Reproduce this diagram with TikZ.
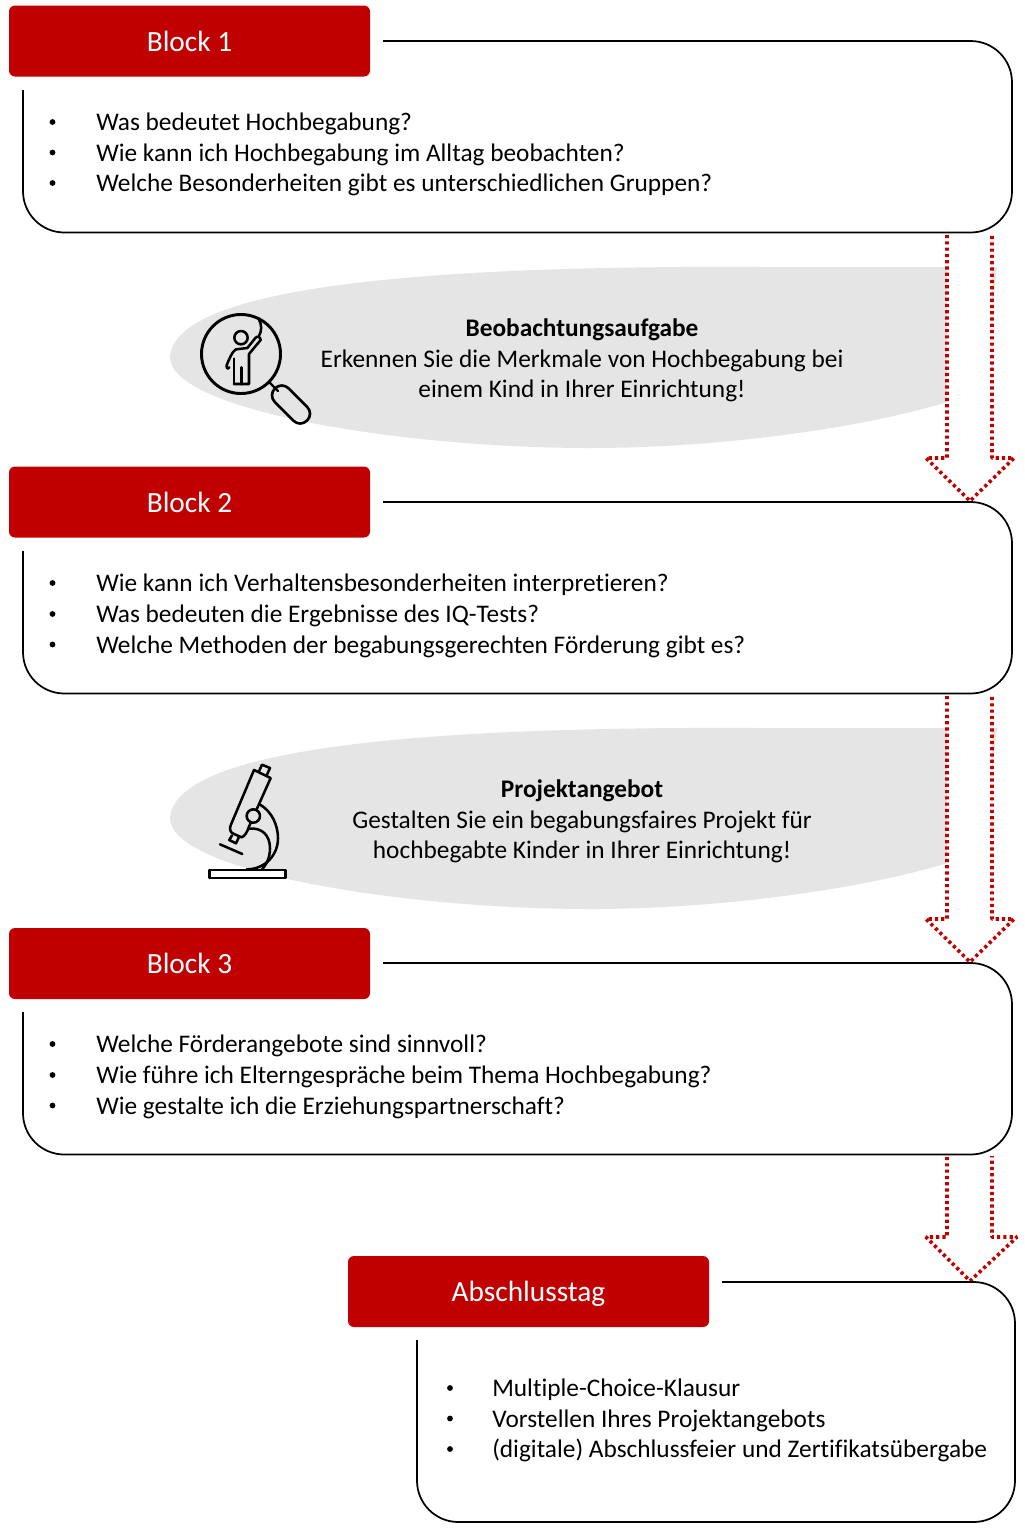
\documentclass[tikz,border=0pt]{standalone}
\usepackage{fontspec}
\setmainfont[Ligatures=NoCommon]{Carlito}
\begin{document}
\begin{tikzpicture}[x=0.75pt,y=-0.75pt,
  redbox/.style={draw=none,fill=brick,rounded corners=4.5pt,minimum width=270.75pt,minimum height=53.25pt,inner sep=0pt,text=white,text height=17pt,text depth=2pt,font=\fontsize{22}{26}\selectfont},
  panelline/.style={draw=black,line width=1.3pt,rounded corners=31pt},
  blockarrow/.style={draw=brick,fill=white,line width=2.7pt,line join=bevel,dash pattern=on 2.4pt off 2.3pt},
  blob/.style={fill=blobgrey,draw=none},
  itemtext/.style={anchor=base west,inner sep=0pt,font=\fontsize{19}{23}\selectfont,text=black},
  centertext/.style={anchor=base,inner sep=0pt,font=\fontsize{19}{23}\selectfont,text=black},
  icon/.style={draw=black,line width=1.9pt,line join=round,line cap=round}]
\definecolor{brick}{HTML}{C00000}
\definecolor{blobgrey}{HTML}{E5E5E5}
\useasboundingbox (0,0) rectangle (1025,1536);
\fill[white] (0,0) rectangle (1025,1536);

% grey blobs
\foreach \dy in {0,461}{
  \begin{scope}[yshift=-0.75*\dy pt]
  \fill[blob] (997,267) -- (760,267) .. controls (400,265) and (175,290) .. (170,357)
     .. controls (170,410) and (400,448) .. (590,448)
     .. controls (730,448) and (880,425) .. (960,398) -- (990,330) -- cycle;
  \end{scope}
}

% block arrows
\draw[blockarrow] (947,235) -- (947,458) -- (926,458) -- (970,501) -- (1014,458) -- (992,458) -- (992,234);
\draw[blockarrow] (947,696) -- (947,919) -- (926,919) -- (970,962) -- (1014,919) -- (992,919) -- (992,695);
\draw[blockarrow] (947,1157) -- (947,1237) -- (926,1237) -- (970,1281) -- (1017,1237) -- (992,1237) -- (992,1156);

% panels
\coordinate (p1s) at (383,41);
\coordinate (p2s) at (383,502);
\coordinate (p3s) at (383,963);
\coordinate (p4s) at (722,1282);
\draw[panelline] (p1s) -- (1012,41) -- (1012,232.5) -- (23,232.5) -- (23,90);
\draw[panelline] (p2s) -- (1012,502) -- (1012,693.5) -- (23,693.5) -- (23,551);
\draw[panelline] (p3s) -- (1012,963) -- (1012,1154.5) -- (23,1154.5) -- (23,1012);
\draw[panelline] (p4s) -- (1015,1282) -- (1015,1522) -- (417,1522) -- (417,1340);

% red headers
\node[redbox] (b1) at (189.5,41) {Block 1};
\node[redbox] (b2) at (189.5,502) {Block 2};
\node[redbox] (b3) at (189.5,963.5) {Block 3};
\node[redbox] (b4) at (528.5,1291.5) {Abschlusstag};

% items
\foreach \yy/\tt in {130.7/{Was bedeutet Hochbegabung?},161.2/{Wie kann ich Hochbegabung im Alltag beobachten?},191.7/{Welche Besonderheiten gibt es unterschiedlichen Gruppen?},
  591.7/{Wie kann ich Verhaltensbesonderheiten interpretieren?},622.7/{Was bedeuten die Ergebnisse des IQ-Tests?},653.2/{Welche Methoden der begabungsgerechten Förderung gibt es?},
  1052.7/{Welche Förderangebote sind sinnvoll?},1083.7/{Wie führe ich Elterngespräche beim Thema Hochbegabung?},1114.2/{Wie gestalte ich die Erziehungspartnerschaft?}}{
  \node[itemtext] at (96,\yy) {\tt};
  \fill[black] (52.5,\yy-8.7) circle (2.9);
}
\foreach \yy/\tt in {1396.5/{Multiple-Choice-Klausur},1427/{Vorstellen Ihres Projektangebots},1457.5/{(digitale) Abschlussfeier und Zertifikatsübergabe}}{
  \node[itemtext] at (492,\yy) {\tt};
  \fill[black] (450,\yy-8.5) circle (2.9);
}

% grey-blob texts
\node[centertext,font=\fontsize{19}{23}\selectfont\bfseries] (t1) at (582,336.7) {Beobachtungsaufgabe};
\node[centertext] (t2) at (582,367.2) {Erkennen Sie die Merkmale von Hochbegabung bei};
\node[centertext] (t3) at (582,397.7) {einem Kind in Ihrer Einrichtung!};
\node[centertext,font=\fontsize{19}{23}\selectfont\bfseries] (t4) at (582,797.7) {Projektangebot};
\node[centertext] (t5) at (582,828.2) {Gestalten Sie ein begabungsfaires Projekt für};
\node[centertext] (t6) at (582,858.7) {hochbegabte Kinder in Ihrer Einrichtung!};

% magnifier icon
\draw[icon,line width=2.2pt] (241,354) circle (39.5);
\draw[icon,line width=1.8pt] (270,383) -- (278,391);
\node[draw=black,line width=2pt,rounded corners=7pt,minimum width=34pt,minimum height=14.5pt,inner sep=0pt,rotate=-45] (handle) at (291,404.5) {};
\begin{scope}[shift={(170,260)},x=0.25pt,y=-0.25pt]
  \draw[icon] (213,233) circle (20);
  \draw[icon] (192,372) -- (237,372) -- (237,282) -- (272,240) .. controls (272,232) and (262,226) .. (256,234) -- (232,264) -- (198,268) .. controls (188,272) and (176,300) .. (170,316) .. controls (168,328) and (178,328) .. (178,322);
  \draw[icon] (192,372) -- (192,296);
  \draw[icon] (215,372) -- (215,322);
  \draw[icon] (266,176) .. controls (276,195) and (276,212) .. (266,230);
\end{scope}

% microscope icon
\begin{scope}[shift={(190,750)},x=0.25pt,y=-0.25pt]
  \draw[icon] (192,60) -- (242,84) -- (176,232) .. controls (172,245) and (165,258) .. (155,262) -- (132,252) .. controls (120,248) and (118,236) .. (122,226) -- cycle;
  \draw[icon] (206,66) -- (216,44) -- (240,54) -- (230,76);
  \draw[icon] (126,256) -- (118,270) -- (138,280) -- (146,263);
  \draw[icon] (90,283) -- (157,312);
  \draw[icon] (212,165) .. controls (245,185) and (264,225) .. (264,265) .. controls (264,315) and (225,358) .. (170,358);
  \draw[icon] (178,236) .. controls (215,232) and (240,255) .. (240,295) .. controls (240,325) and (228,345) .. (215,360);
  \draw[icon,fill=blobgrey] (190,198) circle (20);
  \draw[icon,fill=white] (58,360) rectangle (287,384);
\end{scope}
\end{tikzpicture}
\end{document}
